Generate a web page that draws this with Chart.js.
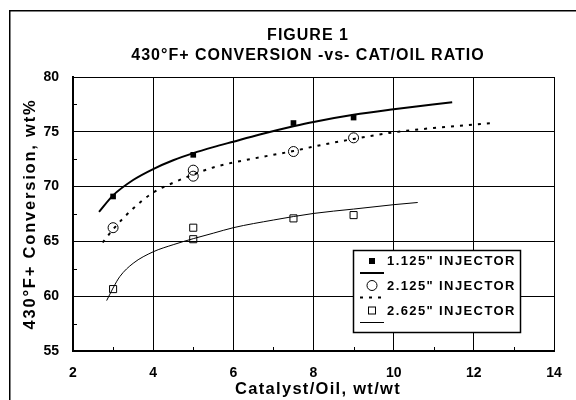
<!DOCTYPE html>
<html>
<head>
<meta charset="utf-8">
<script src="https://cdn.jsdelivr.net/npm/chart.js@4.4.1/dist/chart.umd.min.js"></script>
<style>
  html, body { margin: 0; background: #fff; }
  #wrap { width: 576px; height: 400px; }
</style>
</head>
<body>
<div id="wrap"><canvas id="chart"></canvas></div>
<script>
//-- Data //
const titleLines = ['FIGURE 1', '430\u00B0F+ CONVERSION -vs- CAT/OIL RATIO'];
const xTitle = 'Catalyst/Oil, wt/wt';
const yTitle = '430\u00B0F+ Conversion, wt%';
const seriesNames = ['1.125" INJECTOR', '2.125" INJECTOR', '2.625" INJECTOR'];

// measured points
const inj1X = [3, 5, 7.5, 9];
const inj1Y = [69.1, 72.9, 75.8, 76.3];
const inj2X = [3, 5, 5, 7.5, 9];
const inj2Y = [66.25, 71.5, 70.95, 73.2, 74.45];
const inj3X = [3, 5, 5, 7.5, 9];
const inj3Y = [60.65, 66.25, 65.2, 67.1, 67.4];

// trend curves (traced)
const fit1X = [2.65, 3, 3.5, 4, 4.5, 5, 5.5, 6, 6.66, 7.5, 8, 9, 10, 11.46];
const fit1Y = [67.7, 69.2, 70.6, 71.6, 72.4, 73.05, 73.6, 74.1, 74.75, 75.5, 75.9, 76.55, 77.05, 77.7];
const fit2X = [2.74, 3, 3.5, 4, 4.5, 5, 5.5, 6, 6.66, 7.5, 8, 9, 10, 11, 12.46];
const fit2Y = [64.9, 66.1, 68.0, 69.45, 70.35, 71.1, 71.75, 72.2, 72.67, 73.25, 73.65, 74.35, 74.95, 75.35, 75.8];
const fit3X = [2.84, 3, 3.17, 3.5, 4, 4.5, 5, 5.5, 6, 7, 8, 9, 10, 10.6];
const fit3Y = [59.6, 60.75, 61.8, 63.0, 64.05, 64.7, 65.25, 65.75, 66.25, 66.95, 67.55, 67.95, 68.35, 68.55];

// axes
const xMin = 2, xMax = 14, xStep = 2;
const yMin = 55, yMax = 80, yStep = 5;
const xMinorTicks = [3, 5, 7, 9, 11, 13];
const yMinorTicks = [57.5, 62.5, 67.5, 72.5, 77.5];

const toPoints = (xs, ys) => xs.map((x, i) => ({ x, y: ys[i] }));
const FONT = "'Liberation Sans', Arial, sans-serif";

//-- Extra drawing: frame, titles, minor ticks, boxed legend //
const figureDecor = {
    id: 'figureDecor',
    afterDraw(chart) {
        const ctx = chart.ctx;
        const area = chart.chartArea;
        const xs = chart.scales.x;
        const ys = chart.scales.y;
        ctx.save();

        // outer frame (only left/top visible)
        ctx.strokeStyle = '#000';
        ctx.lineWidth = 1.5;
        ctx.beginPath();
        ctx.moveTo(9.75, 400);
        ctx.lineTo(9.75, 10.75);
        ctx.lineTo(576, 10.75);
        ctx.stroke();

        // minor ticks pointing inward
        ctx.lineWidth = 1;
        ctx.beginPath();
        for (const v of xMinorTicks) {
            const px = Math.round(xs.getPixelForValue(v)) + 0.5;
            ctx.moveTo(px, area.bottom);
            ctx.lineTo(px, area.bottom - 4);
        }
        for (const v of yMinorTicks) {
            const py = Math.round(ys.getPixelForValue(v)) + 0.5;
            ctx.moveTo(area.left, py);
            ctx.lineTo(area.left + 4, py);
        }
        ctx.stroke();

        // titles
        ctx.fillStyle = '#000';
        ctx.textAlign = 'center';
        ctx.textBaseline = 'middle';
        ctx.font = `bold 16px ${FONT}`;
        ctx.letterSpacing = '1px';
        ctx.fillText(titleLines[0], 308, 36);
        ctx.fillText(titleLines[1], 308, 56);

        ctx.letterSpacing = '1.3px';
        ctx.font = `bold 16.5px ${FONT}`;
        ctx.fillText(xTitle, 318, 389);

        ctx.save();
        ctx.translate(30, 214);
        ctx.rotate(-Math.PI / 2);
        ctx.letterSpacing = '1.8px';
        ctx.fillText(yTitle, 0, 0);
        ctx.restore();

        // legend box
        const box = { x: 353.5, y: 250.5, w: 167, h: 82 };
        ctx.fillStyle = '#fff';
        ctx.fillRect(box.x, box.y, box.w, box.h);
        ctx.strokeStyle = '#000';
        ctx.lineWidth = 1.5;
        ctx.strokeRect(box.x, box.y, box.w, box.h);

        const rowY = [261, 285.5, 310.5];
        const lineStyles = [
            { w: 2, dash: [] },
            { w: 2, dash: [3, 6] },
            { w: 1, dash: [] }
        ];
        ctx.font = `bold 13px ${FONT}`;
        ctx.textAlign = 'left';
        ctx.letterSpacing = '1.4px';
        rowY.forEach((y, i) => {
            const mx = 372;
            ctx.fillStyle = '#000';
            ctx.strokeStyle = '#000';
            ctx.lineWidth = 1;
            ctx.setLineDash([]);
            if (i === 0) {
                ctx.fillRect(mx - 3, y - 3, 6, 6);
            } else if (i === 1) {
                ctx.beginPath();
                ctx.arc(mx, y, 5, 0, Math.PI * 2);
                ctx.stroke();
            } else {
                ctx.strokeRect(mx - 3.5, y - 3.5, 7, 7);
            }
            const ly = y + 12;
            ctx.lineWidth = lineStyles[i].w;
            ctx.setLineDash(lineStyles[i].dash);
            ctx.beginPath();
            ctx.moveTo(360, ly);
            ctx.lineTo(384, ly);
            ctx.stroke();
            ctx.setLineDash([]);
            ctx.fillText(seriesNames[i], 387, y + 0.5);
        });

        ctx.restore();
    }
};

const ctx = document.getElementById('chart');

new Chart(ctx, {
    type: 'scatter',
    data: {
        datasets: [
            {
                label: seriesNames[0] + ' fit',
                data: toPoints(fit1X, fit1Y),
                showLine: true,
                borderColor: '#000',
                borderWidth: 2,
                pointRadius: 0,
                cubicInterpolationMode: 'monotone'
            },
            {
                label: seriesNames[1] + ' fit',
                data: toPoints(fit2X, fit2Y),
                showLine: true,
                borderColor: '#000',
                borderWidth: 2,
                borderDash: [3, 6],
                pointRadius: 0,
                cubicInterpolationMode: 'monotone'
            },
            {
                label: seriesNames[2] + ' fit',
                data: toPoints(fit3X, fit3Y),
                showLine: true,
                borderColor: '#000',
                borderWidth: 1,
                pointRadius: 0,
                cubicInterpolationMode: 'monotone'
            },
            {
                label: seriesNames[0],
                data: toPoints(inj1X, inj1Y),
                pointStyle: 'rect',
                pointRadius: 4,
                backgroundColor: '#000',
                borderColor: '#000',
                borderWidth: 0
            },
            {
                label: seriesNames[1],
                data: toPoints(inj2X, inj2Y),
                pointStyle: 'circle',
                pointRadius: 5,
                backgroundColor: 'rgba(0,0,0,0)',
                borderColor: '#000',
                borderWidth: 1
            },
            {
                label: seriesNames[2],
                data: toPoints(inj3X, inj3Y),
                pointStyle: 'rect',
                pointRadius: 5,
                backgroundColor: 'rgba(0,0,0,0)',
                borderColor: '#000',
                borderWidth: 1
            }
        ]
    },
    options: {
        responsive: true,
        maintainAspectRatio: false,
        animation: false,
        layout: { padding: { top: 77, left: 0, right: 22, bottom: 0 } },
        plugins: {
            legend: { display: false },
            tooltip: { enabled: false }
        },
        scales: {
            x: {
                type: 'linear',
                min: xMin,
                max: xMax,
                afterFit: scale => { scale.height = 49; },
                ticks: {
                    stepSize: xStep,
                    padding: 14,
                    color: '#000',
                    font: { family: FONT, size: 14, weight: 'bold' }
                },
                grid: { color: '#000', lineWidth: 1, drawTicks: false },
                border: { color: '#000', width: 2 }
            },
            y: {
                type: 'linear',
                min: yMin,
                max: yMax,
                afterFit: scale => { scale.width = 73; },
                ticks: {
                    stepSize: yStep,
                    padding: 14,
                    color: '#000',
                    font: { family: FONT, size: 14, weight: 'bold' }
                },
                grid: { color: '#000', lineWidth: 1, drawTicks: false },
                border: { color: '#000', width: 2 }
            }
        }
    },
    plugins: [figureDecor]
});
</script>
</body>
</html>
